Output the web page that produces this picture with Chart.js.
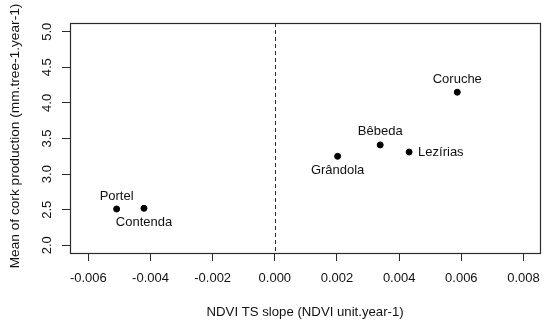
<!DOCTYPE html>
<html>
<head>
<meta charset="utf-8">
<script src="https://cdn.jsdelivr.net/npm/chart.js@4.4.1/dist/chart.umd.min.js"></script>
<style>
html,body{margin:0;padding:0;background:#fff;}
#wrap{width:550px;height:326px;}
</style>
</head>
<body>
<div id="wrap"><canvas id="c" width="550" height="326"></canvas></div>
<script>
const sites = ["Coruche", "Bêbeda", "Lezírias", "Grândola", "Portel", "Contenda"];
const ndviSlope = [0.00587, 0.00339, 0.00432, 0.00202, -0.00509, -0.00421];
const corkMean = [4.15, 3.41, 3.31, 3.25, 2.51, 2.52];
const labelSide = ["top", "top", "right", "bottom", "top", "bottom"];
const xTicks = [-0.006, -0.004, -0.002, 0.000, 0.002, 0.004, 0.006, 0.008];
const yTicks = [2.0, 2.5, 3.0, 3.5, 4.0, 4.5, 5.0];
const xTitle = "NDVI TS slope (NDVI unit.year-1)";
const yTitle = "Mean of cork production (mm.tree-1.year-1)";

const FAM = "'Liberation Sans', Arial, sans-serif";
const FONT = "13px " + FAM;
const TXT = "#111111";
const LINE = "#2b2b2b";

const overlay = {
  id: "overlay",
  beforeDatasetsDraw(chart) {
    const ctx = chart.ctx, a = chart.chartArea, x = chart.scales.x;
    const x0 = x.getPixelForValue(0);
    ctx.save();
    ctx.strokeStyle = LINE;
    ctx.lineWidth = 1;
    ctx.setLineDash([4, 3]);
    ctx.beginPath();
    ctx.moveTo(Math.round(x0) + 0.5, a.top);
    ctx.lineTo(Math.round(x0) + 0.5, a.bottom);
    ctx.stroke();
    ctx.restore();
  },
  afterDraw(chart) {
    const ctx = chart.ctx, a = chart.chartArea, y = chart.scales.y;
    ctx.save();
    ctx.strokeStyle = LINE;
    ctx.lineWidth = 1.2;
    ctx.strokeRect(Math.round(a.left) + 0.5, Math.round(a.top) + 0.5,
                   Math.round(a.right - a.left), Math.round(a.bottom - a.top));
    ctx.font = FONT;
    ctx.fillStyle = TXT;
    yTicks.forEach(v => {
      const py = y.getPixelForValue(v);
      ctx.save();
      ctx.translate(a.left - 23, py);
      ctx.rotate(-Math.PI / 2);
      ctx.textAlign = "center";
      ctx.textBaseline = "middle";
      ctx.fillText(v.toFixed(1), 0, 0);
      ctx.restore();
    });
    ctx.save();
    ctx.font = "13.7px " + FAM;
    ctx.translate(15, 136);
    ctx.rotate(-Math.PI / 2);
    ctx.textAlign = "center";
    ctx.textBaseline = "middle";
    ctx.fillText(yTitle, 0, 0);
    ctx.restore();
    ctx.textAlign = "center";
    ctx.textBaseline = "middle";
    ctx.font = "13.2px " + FAM;
    ctx.fillText(xTitle, (a.left + a.right) / 2, 312);
    ctx.font = FONT;
    const meta = chart.getDatasetMeta(0);
    meta.data.forEach((pt, i) => {
      const side = labelSide[i];
      let tx = pt.x, ty = pt.y;
      if (side === "top") { ctx.textAlign = "center"; ty -= 13; }
      else if (side === "bottom") { ctx.textAlign = "center"; ty += 14; }
      else if (side === "right") { ctx.textAlign = "left"; tx += 9; }
      ctx.textBaseline = "middle";
      ctx.fillText(sites[i], tx, ty);
    });
    ctx.restore();
  }
};

new Chart(document.getElementById("c"), {
  type: "scatter",
  data: {
    datasets: [{
      data: ndviSlope.map((v, i) => ({ x: v, y: corkMean[i] })),
      backgroundColor: "#000",
      borderColor: "#000",
      pointRadius: 3,
      pointHoverRadius: 3
    }]
  },
  options: {
    responsive: false,
    animation: false,
    events: [],
    layout: { padding: { top: 23, right: 7, left: 0, bottom: 0 } },
    plugins: { legend: { display: false }, tooltip: { enabled: false } },
    scales: {
      x: {
        type: "linear",
        min: -0.00659,
        max: 0.00854,
        afterBuildTicks(s) { s.ticks = xTicks.map(v => ({ value: v })); },
        afterFit(s) { s.height = 73; },
        border: { display: false },
        grid: { drawOnChartArea: false, drawTicks: true, tickLength: 8, color: LINE, tickColor: LINE },
        ticks: {
          color: TXT,
          font: { family: FAM, size: 13 },
          padding: 10,
          maxRotation: 0,
          minRotation: 0,
          autoSkip: false,
          callback: v => v.toFixed(3)
        }
      },
      y: {
        type: "linear",
        min: 1.892,
        max: 5.122,
        afterBuildTicks(s) { s.ticks = yTicks.map(v => ({ value: v })); },
        afterFit(s) { s.width = 70; },
        border: { display: false },
        grid: { drawOnChartArea: false, drawTicks: true, tickLength: 8, color: LINE, tickColor: LINE },
        ticks: { display: false }
      }
    }
  },
  plugins: [overlay]
});
</script>
</body>
</html>
